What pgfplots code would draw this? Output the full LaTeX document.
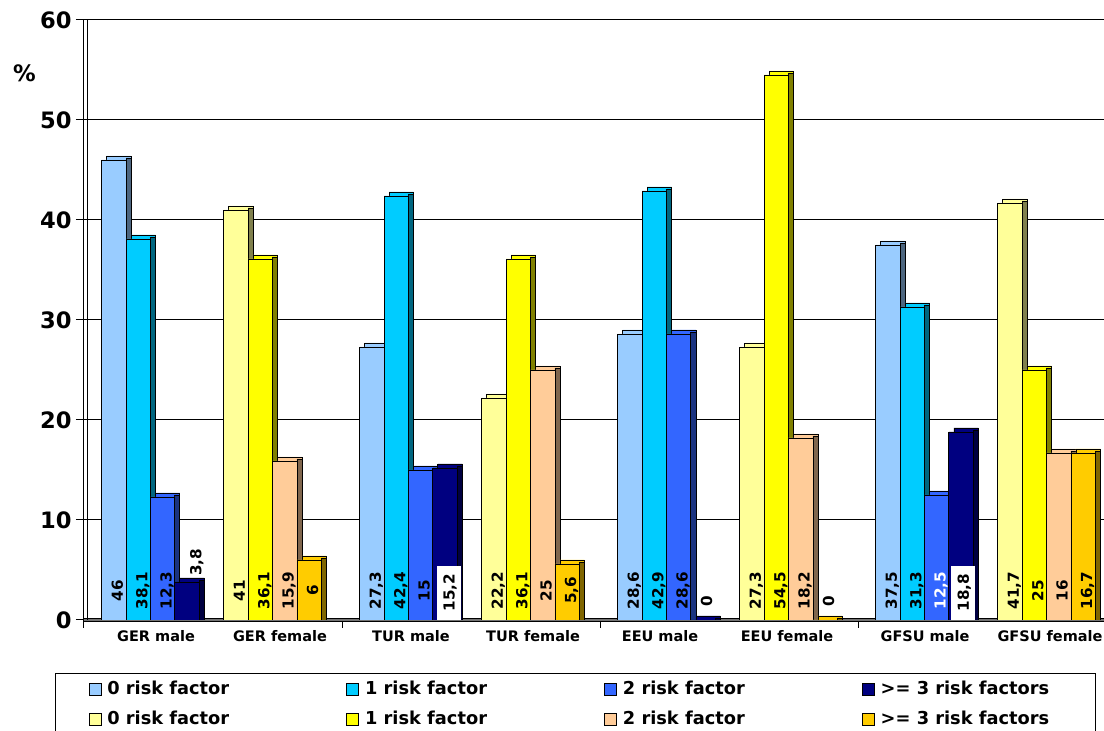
\documentclass[border=0pt]{standalone}
\usepackage{pgfplots}
\pgfplotsset{compat=1.18}
\usepackage{pgfplotstable}
\usepackage{fontspec}
\setmainfont{DejaVu Sans}

\definecolor{lb}{HTML}{99CCFF}\definecolor{lbd}{HTML}{4D6680}
\definecolor{cy}{HTML}{00CCFF}\definecolor{cyd}{HTML}{006680}
\definecolor{bl}{HTML}{3366FF}\definecolor{bld}{HTML}{1A3380}
\definecolor{nv}{HTML}{000080}\definecolor{nvd}{HTML}{000040}
\definecolor{ly}{HTML}{FFFF99}\definecolor{lyd}{HTML}{80804D}
\definecolor{ye}{HTML}{FFFF00}\definecolor{yed}{HTML}{808000}
\definecolor{pe}{HTML}{FFCC99}\definecolor{ped}{HTML}{80664D}
\definecolor{go}{HTML}{FFCC00}\definecolor{god}{HTML}{806600}

\pgfplotstableread{
x s0 s1 s2 s3
0 46 38.1 12.3 3.8
1 27.3 42.4 15 15.2
2 28.6 42.9 28.6 0
3 37.5 31.3 12.5 18.8
}\male
\pgfplotstableread{
x f0 f1 f2 f3
0 41 36.1 15.9 6
1 22.2 36.1 25 5.6
2 27.3 54.5 18.2 0
3 41.7 25 16.7 16.7
}\female
\pgfplotstableread{
x y l
-0.3706 2.95 46
-0.2760 2.95 38,1
-0.1815 2.95 12,3
-0.0660 5.75 3,8
0.1023 2.95 41
0.1968 2.95 36,1
0.2914 2.95 15,9
0.3860 2.95 6
0.6294 2.95 27,3
0.7240 2.95 42,4
0.8185 2.95 15
1.1023 2.95 22,2
1.1968 2.95 36,1
1.2914 2.95 25
1.3860 2.95 5,6
1.6294 2.95 28,6
1.7240 2.95 42,9
1.8185 2.95 28,6
1.9131 1.9 0
2.1023 2.95 27,3
2.1968 2.95 54,5
2.2914 2.95 18,2
2.3860 1.9 0
2.6294 2.95 37,5
2.7240 2.95 31,3
3.1023 2.95 41,7
3.1968 2.95 25
3.2914 2.95 16
3.3860 2.95 16,7
}\labA
\pgfplotstableread{
x y l
2.8185 2.95 12,5
}\labW
\pgfplotstableread{
x y l
0.9150 0 15,2
2.9080 0 18,8
}\labB

\newcommand{\vlab}{\bfseries\fontsize{7.6}{9}\selectfont}
\newcommand{\tdbar}[9]{%
  \addplot[ybar, forget plot, fill=#3, draw=black, line width=0.4pt, bar width=0.0946, bar shift=#6] table[x=x, y expr=\thisrow{#2}+0.4] {#1};
  \addplot[ybar, forget plot, fill=#4, draw=black, line width=0.4pt, bar width=0.0194, bar shift=#7] table[x=x, y expr=\thisrow{#2}+0.2] {#1};
  \addplot[ybar, fill=#3, draw=black, line width=0.4pt, bar width=0.0946, bar shift=#5] table[x=x, y=#2] {#1};
  \addlegendentry{\makebox[#9][l]{#8}}
}

\begin{document}
\begin{tikzpicture}
\begin{axis}[
  at={(42pt,55.5pt)}, anchor=south west,
  scale only axis, width=510pt, height=300pt,
  xmin=-0.5, xmax=3.4535, ymin=0, ymax=60,
  axis x line*=bottom, axis y line*=left,
  x axis line style={-, draw=black, double=black!55, double distance=1.2pt, line width=0.4pt},
  y axis line style={-, black, line width=0.5pt},
  /pgf/number format/assume math mode=true,
  ytick={0,10,...,60},
  ymajorgrids, grid style={black, line width=0.5pt},
  tick align=outside, major tick length=4pt,
  tick style={black, line width=0.5pt},
  yticklabel style={font=\bfseries\fontsize{11.3}{13}\selectfont, inner sep=2pt},
  xtick={-0.5,0.5,1.5,2.5},
  xticklabels={},
  extra x ticks={-0.2209,0.2597,0.7674,1.2403,1.7326,2.2248,2.7597,3.2442},
  extra x tick labels={GER male,GER female,TUR male,TUR female,EEU male,EEU female,GFSU male,GFSU female},
  extra x tick style={major tick length=0pt, tick label style={yshift=-4pt}},
  xticklabel style={font=\bfseries\fontsize{7.25}{8.5}\selectfont, inner sep=1pt},
  ylabel={\%},
  ylabel style={rotate=-90, at={(axis description cs:-0.0583,0.9108)}, anchor=center, font=\bfseries\fontsize{11.3}{13}\selectfont},
  legend columns=4,
  legend image code/.code={\path (-3pt,0pt); \draw[#1, draw=black, line width=0.4pt] (0pt,-3pt) rectangle (6pt,3pt);},
  legend style={at={(axis description cs:-0.0284,-0.0883)}, anchor=north west,
    draw=black, line width=0.5pt, fill=white, inner xsep=13.5pt, inner ysep=2pt,
    font=\bfseries\fontsize{8.9}{10.5}\selectfont,
    nodes={inner sep=2pt, text height=6.6pt, text depth=1.6pt},
    /tikz/every odd column/.append style={column sep=1pt},
    row sep=2.5pt, cells={anchor=west}},
]
\draw[black, line width=0.5pt] ([xshift=1.75pt]rel axis cs:0,0) -- ([xshift=1.75pt]rel axis cs:0,1);

\tdbar{\male}{s0}{lb}{lbd}{-0.3841}{-0.3647}{-0.3271}{0 risk factor}{114.5pt}
\tdbar{\male}{s1}{cy}{cyd}{-0.2895}{-0.2701}{-0.2325}{1 risk factor}{114.5pt}
\tdbar{\male}{s2}{bl}{bld}{-0.1950}{-0.1756}{-0.1380}{2 risk factor}{114.5pt}
\tdbar{\male}{s3}{nv}{nvd}{-0.1004}{-0.0810}{-0.0434}{>= 3 risk factors}{92pt}
\tdbar{\female}{f0}{ly}{lyd}{0.0888}{0.1082}{0.1458}{0 risk factor}{114.5pt}
\tdbar{\female}{f1}{ye}{yed}{0.1833}{0.2027}{0.2403}{1 risk factor}{114.5pt}
\tdbar{\female}{f2}{pe}{ped}{0.2779}{0.2973}{0.3349}{2 risk factor}{114.5pt}
\tdbar{\female}{f3}{go}{god}{0.3725}{0.3919}{0.4295}{>= 3 risk factors}{92pt}

\addplot[forget plot, only marks, mark=text, text mark={}, nodes near coords, nodes near coords align={center}, point meta=explicit symbolic,
  every node near coord/.style={rotate=90, anchor=center, inner sep=0pt, text height=5.5pt, text depth=0pt, font=\vlab, text=black}]
  table[x=x, y=y, meta=l] {\labA};
\addplot[forget plot, only marks, mark=text, text mark={}, nodes near coords, nodes near coords align={center}, point meta=explicit symbolic,
  every node near coord/.style={rotate=90, anchor=center, inner sep=0pt, text height=5.5pt, text depth=0pt, font=\vlab, text=white}]
  table[x=x, y=y, meta=l] {\labW};
\addplot[forget plot, only marks, mark=text, text mark={}, nodes near coords, nodes near coords align={west}, point meta=explicit symbolic,
  every node near coord/.style={rotate=90, anchor=west, inner sep=0pt, fill=white, minimum width=27pt, minimum height=12.2pt, text height=5.5pt, text depth=0pt, font=\vlab, text=black}]
  table[x=x, y=y, meta=l] {\labB};
\end{axis}
\pgfresetboundingbox
\useasboundingbox (0,0) rectangle (552pt,365.5pt);
\end{tikzpicture}
\end{document}
